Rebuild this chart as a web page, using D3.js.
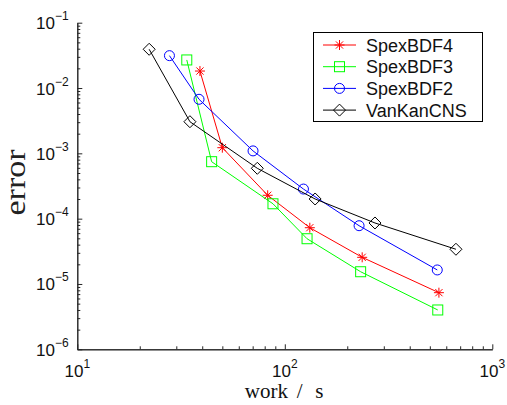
<!DOCTYPE html>
<html>
<head>
<meta charset="utf-8">
<script src="https://d3js.org/d3.v7.min.js"></script>
<style>
  body { margin: 0; background: #fff; }
  svg { display: block; }
</style>
</head>
<body>
<div id="chart"></div>
<script>
// data (work in s, error)
const seriesNames = ["SpexBDF4", "SpexBDF3", "SpexBDF2", "VanKanCNS"];
const workBDF4 = [39.0, 50.0, 82.7, 132, 236, 553];
const errBDF4  = [1.82e-2, 1.22e-3, 2.28e-4, 7.27e-5, 2.56e-5, 7.36e-6];
const workBDF3 = [33.7, 44.4, 87.7, 128, 232, 546];
const errBDF3  = [2.69e-2, 7.45e-4, 1.69e-4, 4.93e-5, 1.54e-5, 4.0e-6];
const workBDF2 = [27.8, 38.6, 70.3, 123, 228, 543];
const errBDF2  = [3.13e-2, 6.72e-3, 1.09e-3, 2.84e-4, 7.80e-5, 1.64e-5];
const workVK   = [22.2, 34.9, 73.7, 140, 272, 668];
const errVK    = [3.92e-2, 3.05e-3, 5.90e-4, 2.00e-4, 8.59e-5, 3.40e-5];
const xTickExp = [1, 2, 3];
const yTickExp = [-1, -2, -3, -4, -5, -6];

const width = 507, height = 405;
const mLeft = 77.3, mRight = 492.3, mTop = 22.7, mBottom = 349.3;

const svg = d3.select("#chart").append("svg")
    .attr("width", width)
    .attr("height", height);

const x = d3.scaleLog().domain([10, 1000]).range([mLeft, mRight]);
const y = d3.scaleLog().domain([1e-6, 1e-1]).range([mBottom, mTop]);

// minor ticks 2..9 of each decade
const xMinor = [], yMinor = [];
for (let e = 1; e < 3; e++) for (let k = 2; k < 10; k++) xMinor.push(k * Math.pow(10, e));
for (let e = -6; e < -1; e++) for (let k = 2; k < 10; k++) yMinor.push(k * Math.pow(10, e));

const axisColor = "#262626";

// x axis
const gx = svg.append("g").attr("transform", `translate(0,${mBottom})`);
gx.call(d3.axisBottom(x).tickValues(xMinor).tickSize(-3).tickSizeOuter(0).tickFormat(""));
gx.append("g").call(d3.axisBottom(x).tickValues(xTickExp.map(e => Math.pow(10, e))).tickSize(-5).tickSizeOuter(0).tickFormat(""));
// y axis
const gy = svg.append("g").attr("transform", `translate(${mLeft},0)`);
gy.call(d3.axisLeft(y).tickValues(yMinor).tickSize(-3).tickSizeOuter(0).tickFormat(""));
gy.append("g").call(d3.axisLeft(y).tickValues(yTickExp.map(e => Math.pow(10, e))).tickSize(-5).tickSizeOuter(0).tickFormat(""));
svg.selectAll(".domain, .tick line").attr("stroke", axisColor).attr("stroke-width", 1);

const tickFont = "Liberation Sans, Arial, sans-serif";
const serif = "Liberation Serif, Times New Roman, serif";

// x tick labels
xTickExp.forEach(e => {
  const t = svg.append("text")
      .attr("x", x(Math.pow(10, e)))
      .attr("y", 377)
      .attr("text-anchor", "middle")
      .attr("font-family", tickFont)
      .attr("font-size", 17)
      .attr("fill", "#111");
  t.append("tspan").text("10");
  t.append("tspan").attr("dy", -9).attr("font-size", 12).text(e);
});

// y tick labels
yTickExp.forEach(e => {
  const t = svg.append("text")
      .attr("x", 36)
      .attr("y", y(Math.pow(10, e)) + 6.5)
      .attr("text-anchor", "start")
      .attr("font-family", tickFont)
      .attr("font-size", 17)
      .attr("fill", "#111");
  t.append("tspan").text("10");
  t.append("tspan").attr("dy", -9).attr("font-size", 12).text("\u2212" + Math.abs(e));
});

// x label: "work / s" with wide math spacing around the slash
const xc = (mLeft + mRight) / 2;
const xl = svg.append("text")
    .attr("y", 398)
    .attr("font-family", serif)
    .attr("font-size", 21)
    .attr("fill", "#111");
xl.append("tspan").attr("x", xc - 40).text("work");
xl.append("tspan").attr("x", xc + 12).text("/");
xl.append("tspan").attr("x", xc + 30.5).text("s");

svg.append("text")
    .attr("transform", `translate(25,${(mTop + mBottom) / 2 - 3.5}) rotate(-90)`)
    .attr("text-anchor", "middle")
    .attr("font-family", serif)
    .attr("font-size", 29)
    .attr("textLength", 66)
    .attr("lengthAdjust", "spacingAndGlyphs")
    .attr("fill", "#222")
    .text("error");

const series = [
  { name: seriesNames[0], work: workBDF4, err: errBDF4, color: "#ff0000", marker: "star" },
  { name: seriesNames[1], work: workBDF3, err: errBDF3, color: "#00ff00", marker: "square" },
  { name: seriesNames[2], work: workBDF2, err: errBDF2, color: "#0000ff", marker: "circle" },
  { name: seriesNames[3], work: workVK,   err: errVK,   color: "#000000", marker: "diamond" }
];

function drawMarker(g, type, cx, cy, color) {
  if (type === "star") {
    const r = 5, d = 3.6;
    const p = `M${cx - r},${cy}L${cx + r},${cy}M${cx},${cy - r}L${cx},${cy + r}` +
              `M${cx - d},${cy - d}L${cx + d},${cy + d}M${cx - d},${cy + d}L${cx + d},${cy - d}`;
    g.append("path").attr("d", p).attr("stroke", color).attr("stroke-width", 1).attr("fill", "none");
  } else if (type === "square") {
    g.append("rect").attr("x", cx - 5).attr("y", cy - 5).attr("width", 10).attr("height", 10)
      .attr("stroke", color).attr("fill", "none").attr("stroke-width", 1);
  } else if (type === "circle") {
    g.append("circle").attr("cx", cx).attr("cy", cy).attr("r", 5)
      .attr("stroke", color).attr("fill", "none").attr("stroke-width", 1);
  } else {
    const r = 6;
    g.append("path").attr("d", `M${cx},${cy - r}L${cx + r},${cy}L${cx},${cy + r}L${cx - r},${cy}Z`)
      .attr("stroke", color).attr("fill", "none").attr("stroke-width", 1);
  }
}

const line = d3.line().x(d => x(d[0])).y(d => y(d[1]));

series.forEach(s => {
  const pts = s.work.map((w, i) => [w, s.err[i]]);
  const g = svg.append("g");
  g.append("path").attr("d", line(pts)).attr("fill", "none")
    .attr("stroke", s.color).attr("stroke-width", 1);
  pts.forEach(p => drawMarker(g, s.marker, x(p[0]), y(p[1]), s.color));
});

// legend
const lg = svg.append("g");
lg.append("rect").attr("x", 313.5).attr("y", 32.5).attr("width", 169).attr("height", 89)
  .attr("fill", "#fff").attr("stroke", "#000").attr("stroke-width", 1);
series.forEach((s, i) => {
  const cy = 45 + i * 21.7;
  lg.append("line").attr("x1", 323).attr("x2", 356).attr("y1", cy).attr("y2", cy)
    .attr("stroke", s.color).attr("stroke-width", 1);
  drawMarker(lg, s.marker, 339.5, cy, s.color);
  lg.append("text").attr("x", 366).attr("y", cy + 6.5)
    .attr("font-family", tickFont).attr("font-size", 18).attr("fill", "#111")
    .text(s.name);
});
</script>
</body>
</html>
